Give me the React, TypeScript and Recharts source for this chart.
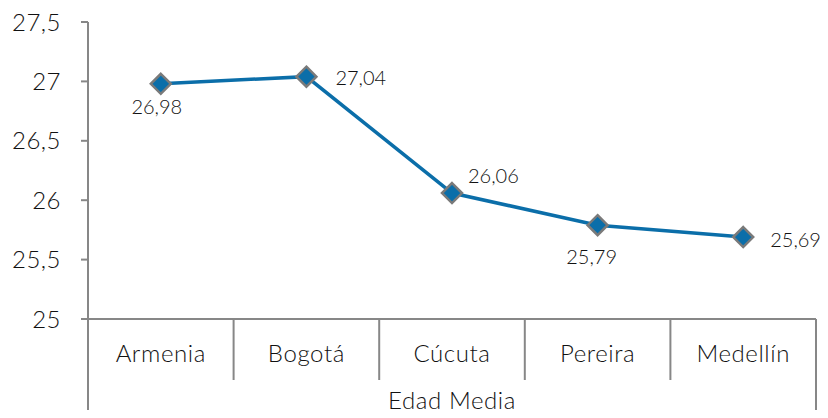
import React from "react";
import { LineChart, Line, XAxis, YAxis, LabelList } from "recharts";

const cities = ["Armenia", "Bogotá", "Cúcuta", "Pereira", "Medellín"];
const edadMedia = [26.98, 27.04, 26.06, 25.79, 25.69];
const yTicks = [25, 25.5, 26, 26.5, 27, 27.5];
const groupLabel = "Edad Media";

const data = cities.map((city, i) => ({ city, value: edadMedia[i] }));

// label offsets relative to each point: [dx, dy, anchor]
const labelOffsets: [number, number, string][] = [
  [-4, 22, "middle"],
  [29, 0, "start"],
  [16, -18, "start"],
  [-6, 31, "middle"],
  [27, 2, "start"],
];

const FONT = "Lato, 'Noto Sans', sans-serif";
const AXIS = "#878787";
const TEXT = "#111111";
const WEIGHT = 300;
const LINE = "#0B6EA9";

const fmt = (v: number) => String(v).replace(".", ",");

function Diamond(props: any) {
  const { cx, cy } = props;
  if (cx == null || cy == null) return null;
  const r = 10;
  return (
    <polygon
      points={`${cx},${cy - r} ${cx + r},${cy} ${cx},${cy + r} ${cx - r},${cy}`}
      fill={LINE}
      stroke="#7a7a7a"
      strokeWidth={2.5}
    />
  );
}

function PointLabel(props: any) {
  const { x, y, value, index } = props;
  const [dx, dy, anchor] = labelOffsets[index];
  return (
    <text
      x={x + dx}
      y={y + dy}
      textAnchor={anchor as any}
      dominantBaseline="central"
      fontFamily={FONT}
      fontSize={20}
      fontWeight={WEIGHT}
      fill={TEXT}
    >
      {fmt(value)}
    </text>
  );
}

function CityTick(props: any) {
  const { x, y, payload, index, visibleTicksCount } = props;
  const half = 72.8;
  const top = y - 8;
  const count = visibleTicksCount ?? cities.length;
  const last = index === count - 1;
  const mid = (count - 1) / 2;
  return (
    <g>
      {index === 0 && (
        <line x1={x - half} y1={top} x2={x - half} y2={418} stroke={AXIS} strokeWidth={2} />
      )}
      <line
        x1={x + half}
        y1={top}
        x2={x + half}
        y2={last ? 418 : top + 61}
        stroke={AXIS}
        strokeWidth={2}
      />
      <text
        x={x}
        y={top + 43}
        textAnchor="middle"
        fontFamily={FONT}
        fontSize={24}
        fontWeight={WEIGHT}
        letterSpacing={0.6}
        fill={TEXT}
      >
        {payload.value}
      </text>
      {index === mid && (
        <text
          x={x}
          y={top + 90}
          textAnchor="middle"
          fontFamily={FONT}
          fontSize={24}
          fontWeight={WEIGHT}
          letterSpacing={0.6}
          fill={TEXT}
        >
          {groupLabel}
        </text>
      )}
    </g>
  );
}

export default function App() {
  return (
    <div style={{ width: 828, height: 418, margin: -8, background: "#fff" }}>
      <LineChart
        width={828}
        height={418}
        data={data}
        margin={{ top: 22, right: 12, bottom: 0, left: 0 }}
      >
        <XAxis
          dataKey="city"
          height={99}
          padding={{ left: 72.8, right: 72.8 }}
          axisLine={{ stroke: AXIS, strokeWidth: 2 }}
          tickLine={false}
          tick={<CityTick />}
          interval={0}
        />
        <YAxis
          width={88}
          domain={[25, 27.5]}
          ticks={yTicks}
          tickFormatter={fmt}
          axisLine={{ stroke: AXIS, strokeWidth: 2 }}
          tickLine={{ stroke: AXIS, strokeWidth: 2 }}
          tickSize={7}
          tickMargin={20}
          tick={{ fill: TEXT, fontSize: 24, fontWeight: WEIGHT, fontFamily: FONT, letterSpacing: 0.5 }}
        />
        <Line
          dataKey="value"
          stroke={LINE}
          strokeWidth={3.5}
          dot={<Diamond />}
          activeDot={false}
          isAnimationActive={false}
        >
          <LabelList dataKey="value" content={<PointLabel />} />
        </Line>
      </LineChart>
    </div>
  );
}
